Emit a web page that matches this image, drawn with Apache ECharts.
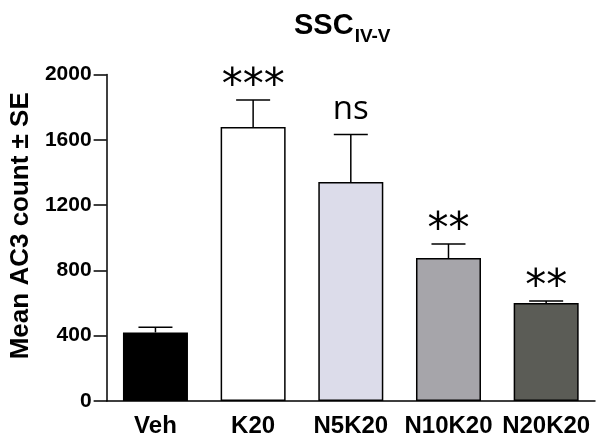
<!DOCTYPE html>
<html>
<head>
<meta charset="utf-8">
<script src="https://cdn.jsdelivr.net/npm/echarts@6/dist/echarts.min.js"></script>
<style>html,body{margin:0;padding:0;background:#fff}#c{width:601px;height:441px}</style>
</head>
<body>
<div id="c"></div>
<script>
var categories = ['Veh', 'K20', 'N5K20', 'N10K20', 'N20K20'];
var means = [420, 1678, 1341, 876, 600];
var errors = [32, 166, 291, 86, 12];
var sigLabels = ['', '***', 'ns', '**', '**'];
var barColors = ['#000000', '#ffffff', '#dcdcea', '#a6a5aa', '#5b5c56'];
var yTicks = [0, 400, 800, 1200, 1600, 2000];

var chart = echarts.init(document.getElementById('c'), null, {renderer: 'canvas'});
var F = '"Liberation Sans", Arial, sans-serif';

chart.setOption({
  backgroundColor: '#ffffff',
  animation: false,
  title: {
    text: '{m|SSC}{s|IV-V}',
    left: 289,
    top: 6,
    textStyle: {
      rich: {
        m: {fontFamily: F, fontWeight: 'bold', fontSize: 29, color: '#000', verticalAlign: 'bottom', lineHeight: 29},
        s: {fontFamily: F, fontWeight: 'bold', fontSize: 19, color: '#000', verticalAlign: 'bottom', padding: [0, 0, -6, 1]}
      }
    }
  },
  grid: {left: 102, right: 6, top: 74.5, bottom: 40, containLabel: false},
  xAxis: {
    type: 'category',
    data: categories,
    axisLine: {lineStyle: {color: '#000', width: 1.5}},
    axisTick: {alignWithLabel: true, length: 9, lineStyle: {color: '#000', width: 1.5}},
    axisLabel: {fontFamily: F, fontWeight: 'bold', fontSize: 24, color: '#000', margin: 13, interval: 0}
  },
  yAxis: {
    type: 'value',
    min: yTicks[0],
    max: yTicks[yTicks.length - 1],
    interval: yTicks[1] - yTicks[0],
    name: 'Mean AC3 count \u00b1 SE',
    nameLocation: 'middle',
    nameGap: 66,
    nameTextStyle: {fontFamily: F, fontWeight: 'bold', fontSize: 26, color: '#000', padding: [0, 0, 0, 24]},
    axisLine: {show: true, lineStyle: {color: '#000', width: 1.5}},
    axisTick: {show: true, length: 13, lineStyle: {color: '#000', width: 1.5}},
    axisLabel: {fontFamily: F, fontWeight: 'bold', fontSize: 21, color: '#000', margin: 15,
      formatter: function (v) { return String(v); }},
    splitLine: {show: false}
  },
  series: [
    {
      type: 'bar',
      barWidth: 65,
      data: means.map(function (v, i) {
        return {value: v, itemStyle: {color: barColors[i], borderColor: '#000', borderWidth: 1.5}};
      }),
      z: 2
    },
    {
      type: 'custom',
      z: 3,
      data: means.map(function (v, i) { return [i, v, errors[i]]; }),
      renderItem: function (params, api) {
        var i = api.value(0), m = api.value(1), se = api.value(2);
        var p0 = api.coord([i, m]);
        var p1 = api.coord([i, m + se]);
        var half = 17;
        var style = {stroke: '#000', lineWidth: 1.5};
        var children = [
          {type: 'line', shape: {x1: p0[0], y1: p0[1], x2: p1[0], y2: p1[1]}, style: style},
          {type: 'line', shape: {x1: p1[0] - half, y1: p1[1], x2: p1[0] + half, y2: p1[1]}, style: style}
        ];
        var lab = sigLabels[params.dataIndex];
        if (lab) {
          var isNs = lab === 'ns';
          children.push({
            type: 'text',
            style: {
              text: lab,
              x: p1[0],
              y: isNs ? p1[1] - 24.5 : p1[1] - 13,
              align: 'center',
              verticalAlign: 'middle',
              fill: '#000',
              font: isNs ? '33px "Open Sans", sans-serif' : '42px "DejaVu Sans", sans-serif'
            }
          });
        }
        return {type: 'group', children: children};
      }
    }
  ]
});
</script>
</body>
</html>
